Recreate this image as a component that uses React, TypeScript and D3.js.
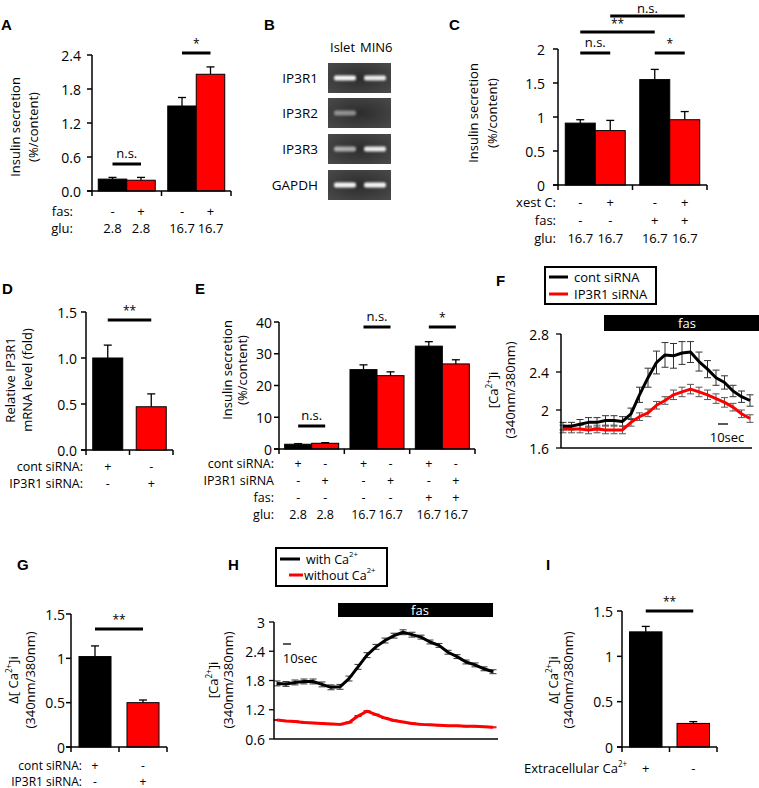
import React from 'react';
import * as d3 from 'd3';

const FONT = "'Open Sans', 'Liberation Sans', sans-serif";
const RED = '#ff0000';

// ---------- Panel A ----------
const aFas = ['-', '+', '-', '+'];
const aGlu = ['2.8', '2.8', '16.7', '16.7'];
const aBlack = [0.21, 1.5];
const aBlackErr = [0.03, 0.15];
const aRed = [0.19, 2.06];
const aRedErr = [0.05, 0.13];
const aTicks = [0, 0.6, 1.2, 1.8, 2.4];

// ---------- Panel B ----------
const bGenes = ['IP3R1', 'IP3R2', 'IP3R3', 'GAPDH'];
const bLanes = ['Islet', 'MIN6'];
const bIslet = [0.95, 0.45, 0.6, 0.95];
const bMin6 = [0.9, 0, 0.9, 0.95];

// ---------- Panel C ----------
const cXest = ['-', '+', '-', '+'];
const cFas = ['-', '-', '+', '+'];
const cGlu = ['16.7', '16.7', '16.7', '16.7'];
const cBlack = [0.91, 1.55];
const cBlackErr = [0.05, 0.15];
const cRed = [0.8, 0.96];
const cRedErr = [0.15, 0.12];
const cTicks = [0, 0.5, 1, 1.5, 2];

// ---------- Panel D ----------
const dCont = ['+', '-'];
const dSi = ['-', '+'];
const dVals = [1.0, 0.47];
const dErr = [0.14, 0.14];
const dTicks = [0, 0.5, 1.0, 1.5];

// ---------- Panel E ----------
const eCont = ['+', '-', '+', '-', '+', '-'];
const eSi = ['-', '+', '-', '+', '-', '+'];
const eFas = ['-', '-', '-', '-', '+', '+'];
const eGlu = ['2.8', '2.8', '16.7', '16.7', '16.7', '16.7'];
const eBlack = [1.5, 25.0, 32.4];
const eBlackErr = [0.2, 1.5, 1.4];
const eRed = [1.8, 23.1, 26.8];
const eRedErr = [0.2, 1.2, 1.3];
const eTicks = [0, 10, 20, 30, 40];

// ---------- Panel F ----------
const fCont = [1.83, 1.83, 1.85, 1.87, 1.87, 1.89, 1.89, 1.88, 1.96, 2.16, 2.34, 2.5, 2.58, 2.57, 2.6, 2.61, 2.51, 2.43, 2.34, 2.29, 2.2, 2.14, 2.1];
const fContErr = [0.04, 0.04, 0.05, 0.05, 0.05, 0.05, 0.05, 0.05, 0.06, 0.08, 0.1, 0.12, 0.13, 0.13, 0.12, 0.11, 0.1, 0.09, 0.08, 0.07, 0.06, 0.06, 0.06];
const fSi = [1.8, 1.8, 1.8, 1.79, 1.8, 1.79, 1.79, 1.79, 1.87, 1.93, 1.97, 2.05, 2.1, 2.16, 2.19, 2.22, 2.19, 2.16, 2.12, 2.08, 2.03, 1.96, 1.91];
const fSiErr = [0.04, 0.04, 0.04, 0.04, 0.04, 0.04, 0.04, 0.04, 0.04, 0.04, 0.04, 0.04, 0.04, 0.05, 0.05, 0.05, 0.05, 0.05, 0.05, 0.05, 0.04, 0.04, 0.04];
const fTicks = [1.6, 2, 2.4, 2.8];

// ---------- Panel G ----------
const gCont = ['+', '-'];
const gSi = ['-', '+'];
const gVals = [1.02, 0.5];
const gErr = [0.12, 0.03];
const gTicks = [0, 0.5, 1, 1.5];

// ---------- Panel H ----------
const hWith = [1.74, 1.73, 1.76, 1.78, 1.78, 1.72, 1.66, 1.67, 1.84, 2.08, 2.32, 2.49, 2.62, 2.72, 2.79, 2.74, 2.69, 2.59, 2.52, 2.38, 2.29, 2.18, 2.12, 2.04, 1.98];
const hWithErr = [0.05, 0.05, 0.05, 0.05, 0.05, 0.05, 0.05, 0.05, 0.05, 0.05, 0.05, 0.05, 0.05, 0.05, 0.05, 0.05, 0.04, 0.04, 0.04, 0.04, 0.04, 0.04, 0.04, 0.04, 0.04];
const hWithout = [0.99, 0.97, 0.96, 0.94, 0.93, 0.92, 0.91, 0.9, 0.94, 1.07, 1.17, 1.1, 1.03, 0.98, 0.95, 0.92, 0.9, 0.89, 0.88, 0.87, 0.87, 0.86, 0.86, 0.85, 0.84];
const hWithoutErr = [0.01, 0.01, 0.01, 0.01, 0.01, 0.01, 0.01, 0.01, 0.01, 0.01, 0.01, 0.01, 0.01, 0.01, 0.01, 0.01, 0.01, 0.01, 0.01, 0.01, 0.01, 0.01, 0.01, 0.01, 0.01];
const hTicks = [0.6, 1.2, 1.8, 2.4, 3];

// ---------- Panel I ----------
const iExtra = ['+', '-'];
const iVals = [1.27, 0.26];
const iErr = [0.06, 0.02];
const iTicks = [0, 0.5, 1, 1.5];

type BarSpec = { v: number; e: number; color: string };
type SigSpec = { a: number; b: number; y: number; label: string; ly?: number };
type RowSpec = { label: string; y: number; values: string[] };

const Sup = ({ pre, post = '' }: { pre: string; post?: string }) => (
  <>
    {pre}
    <tspan fontSize="0.62em" dy={-5}>2+</tspan>
    {post ? <tspan dy={5}>{post}</tspan> : null}
  </>
);

function YLabel({ x1, x2, y, l1, l2, size = 13 }: { x1: number; x2: number; y: number; l1: React.ReactNode; l2: React.ReactNode; size?: number }) {
  return (
    <g fontSize={size} textAnchor="middle">
      <text transform={`translate(${x1},${y}) rotate(-90)`} dominantBaseline="central">{l1}</text>
      <text transform={`translate(${x2},${y}) rotate(-90)`} dominantBaseline="central">{l2}</text>
    </g>
  );
}

function BarPanel(p: {
  axisX: number; axisEnd: number; yTop: number; yBot: number; max: number;
  ticks: number[]; fmt: (n: number) => string; gap: number;
  groups: BarSpec[][]; padInner: number; sigs: SigSpec[];
  rows: RowSpec[]; rowLabelX: number; cap?: number; rowSize?: number;
}) {
  const y = d3.scaleLinear().domain([0, p.max]).range([p.yBot, p.yTop]);
  const xg = d3.scaleBand<number>()
    .domain(d3.range(p.groups.length))
    .range([p.axisX, p.axisEnd])
    .paddingInner(p.padInner)
    .paddingOuter(p.padInner / 2);
  const bars: (BarSpec & { x: number; w: number; cx: number })[] = [];
  p.groups.forEach((g, gi) => {
    const w = xg.bandwidth() / g.length;
    g.forEach((b, k) => {
      const x = (xg(gi) as number) + k * w;
      bars.push({ ...b, x, w, cx: x + w / 2 });
    });
  });
  const seps = d3.range(0, p.groups.length + 1).map((i) => p.axisX + xg.step() * i);
  const cap = p.cap ?? 8;
  return (
    <g>
      {bars.map((b, i) => (
        <g key={i}>
          <line x1={b.cx} x2={b.cx} y1={y(b.v)} y2={y(b.v + b.e)} stroke="#000" strokeWidth={1.3} />
          <line x1={b.cx - cap / 2} x2={b.cx + cap / 2} y1={y(b.v + b.e)} y2={y(b.v + b.e)} stroke="#000" strokeWidth={1.3} />
          <rect x={b.x} y={y(b.v)} width={b.w} height={y(0) - y(b.v)} fill={b.color} stroke="#000" strokeWidth={1} />
        </g>
      ))}
      <line x1={p.axisX} x2={p.axisX} y1={p.yTop} y2={p.yBot + 5} stroke="#000" strokeWidth={1.5} />
      <line x1={p.axisX - 5} x2={p.axisEnd} y1={p.yBot} y2={p.yBot} stroke="#000" strokeWidth={1.5} />
      {seps.slice(1).map((sx, i) => (
        <line key={i} x1={sx} x2={sx} y1={p.yBot} y2={p.yBot + 5} stroke="#000" strokeWidth={1.5} />
      ))}
      {p.ticks.map((t) => (
        <g key={t}>
          <line x1={p.axisX - 5} x2={p.axisX} y1={y(t)} y2={y(t)} stroke="#000" strokeWidth={1.5} />
          <text x={p.axisX - p.gap} y={y(t)} textAnchor="end" dominantBaseline="central" fontSize={14}>{p.fmt(t)}</text>
        </g>
      ))}
      {p.sigs.map((s, i) => (
        <g key={i}>
          <line x1={bars[s.a].cx} x2={bars[s.b].cx} y1={s.y} y2={s.y} stroke="#000" strokeWidth={3} />
          <text x={(bars[s.a].cx + bars[s.b].cx) / 2} y={s.ly ?? (s.label === 'n.s.' ? s.y - 11 : s.y - 10)} textAnchor="middle" dominantBaseline="central" fontSize={s.label === 'n.s.' ? 13 : 12}>{s.label}</text>
        </g>
      ))}
      {p.rows.map((r, ri) => (
        <g key={ri} fontSize={p.rowSize ?? 13}>
          <text x={p.rowLabelX} y={r.y} textAnchor="end" dominantBaseline="central">{r.label}</text>
          {r.values.map((v, vi) => (
            <text key={vi} x={bars[vi].cx} y={r.y} textAnchor="middle" dominantBaseline="central">{v}</text>
          ))}
        </g>
      ))}
    </g>
  );
}

function LinePanel(p: {
  axisX: number; axisEnd: number; yTop: number; yBot: number; lo: number; hi: number;
  ticks: number[]; gap: number; dataX0: number; dataX1: number;
  series: { vals: number[]; errs: number[]; color: string; errColor: string }[];
}) {
  const y = d3.scaleLinear().domain([p.lo, p.hi]).range([p.yBot, p.yTop]);
  const n = p.series[0].vals.length;
  const x = d3.scaleLinear().domain([0, n - 1]).range([p.dataX0, p.dataX1]);
  const line = d3.line<number>().x((_, i) => x(i)).y((v) => y(v));
  return (
    <g>
      {p.series.map((s, si) => (
        <g key={si}>
          {s.vals.map((v, i) => (
            <g key={i} stroke={s.errColor} strokeWidth={1}>
              <line x1={x(i)} x2={x(i)} y1={y(v - s.errs[i])} y2={y(v + s.errs[i])} />
              <line x1={x(i) - 3.5} x2={x(i) + 3.5} y1={y(v - s.errs[i])} y2={y(v - s.errs[i])} />
              <line x1={x(i) - 3.5} x2={x(i) + 3.5} y1={y(v + s.errs[i])} y2={y(v + s.errs[i])} />
            </g>
          ))}
        </g>
      ))}
      {[...p.series].reverse().map((s, si) => (
        <path key={si} d={line(s.vals) || ''} fill="none" stroke={s.color} strokeWidth={3} strokeLinejoin="round" />
      ))}
      <line x1={p.axisX} x2={p.axisX} y1={p.yTop} y2={p.yBot} stroke="#000" strokeWidth={1.5} />
      <line x1={p.axisX} x2={p.axisEnd} y1={p.yBot} y2={p.yBot} stroke="#000" strokeWidth={1.5} />
      {p.ticks.map((t) => (
        <g key={t}>
          <line x1={p.axisX - 5} x2={p.axisX} y1={y(t)} y2={y(t)} stroke="#000" strokeWidth={1.3} />
          <text x={p.axisX - p.gap} y={y(t)} textAnchor="end" dominantBaseline="central" fontSize={14}>{String(t)}</text>
        </g>
      ))}
    </g>
  );
}

function Gel() {
  const rowsY = [63, 98, 134, 170];
  const gx = 328;
  const gw = 63;
  const gh = 30;
  const laneX = [345, 375];
  return (
    <g>
      <text x={330} y={47} fontSize={13} dominantBaseline="central">{bLanes[0]}</text>
      <text x={360} y={47} fontSize={13} dominantBaseline="central">{bLanes[1]}</text>
      {bGenes.map((g, i) => (
        <g key={g}>
          <text x={318} y={rowsY[i] + gh / 2} textAnchor="end" dominantBaseline="central" fontSize={13.5}>{g}</text>
          <rect x={gx} y={rowsY[i]} width={gw} height={gh} fill="url(#gelGrad)" />
          {[bIslet[i], bMin6[i]].map((v, k) =>
            v > 0 ? (
              <rect key={k} x={laneX[k] - 11} y={rowsY[i] + gh / 2 - 2.5} width={22} height={5} rx={2} fill="#fff" opacity={v} filter="url(#bandBlur)" />
            ) : null
          )}
        </g>
      ))}
    </g>
  );
}

export default function App() {
  const f1 = d3.format('.1f');
  const plain = (n: number) => String(n);
  return (
    <svg width={759} height={788} style={{ position: 'absolute', left: 0, top: 0, background: '#fff' }} fontFamily={FONT}>
      <defs>
        <filter id="bandBlur" x="-50%" y="-100%" width="200%" height="300%">
          <feGaussianBlur stdDeviation="1.1" />
        </filter>
        <radialGradient id="gelGrad" cx="50%" cy="50%" r="70%">
          <stop offset="0%" stopColor="#2c2c2c" />
          <stop offset="100%" stopColor="#4a4a4a" />
        </radialGradient>
      </defs>

      {/* Panel labels */}
      <g fontWeight="bold" fontSize={15} fontFamily="'Liberation Sans', Arial, sans-serif">
        <text x={1} y={30}>A</text>
        <text x={264} y={30}>B</text>
        <text x={449} y={30}>C</text>
        <text x={2} y={294}>D</text>
        <text x={195} y={294}>E</text>
        <text x={496} y={286}>F</text>
        <text x={17} y={570}>G</text>
        <text x={228} y={570}>H</text>
        <text x={546} y={570}>I</text>
      </g>

      {/* A */}
      <YLabel x1={15} x2={33} y={127} l1="Insulin secretion" l2="(%/content)" />
      <BarPanel
        axisX={92} axisEnd={231} yTop={55} yBot={191} max={2.4} ticks={aTicks} fmt={f1} gap={11}
        padInner={0.18}
        groups={aBlack.map((v, i) => [
          { v, e: aBlackErr[i], color: '#000' },
          { v: aRed[i], e: aRedErr[i], color: RED },
        ])}
        sigs={[{ a: 0, b: 1, y: 164, label: 'n.s.' }, { a: 2, b: 3, y: 53, label: '*' }]}
        rows={[{ label: 'fas:', y: 211, values: aFas }, { label: 'glu:', y: 228, values: aGlu }]}
        rowLabelX={73}
      />

      {/* B */}
      <Gel />

      {/* C */}
      <YLabel x1={473} x2={492} y={113} l1="Insulin secretion" l2="(%/content)" />
      <BarPanel
        axisX={558} axisEnd={707} yTop={49} yBot={185} max={2} ticks={cTicks} fmt={plain} gap={13}
        padInner={0.195}
        groups={cBlack.map((v, i) => [
          { v, e: cBlackErr[i], color: '#000' },
          { v: cRed[i], e: cRedErr[i], color: RED },
        ])}
        sigs={[
          { a: 0, b: 1, y: 53, label: 'n.s.' },
          { a: 2, b: 3, y: 53, label: '*' },
          { a: 0, b: 2, y: 32, label: '**', ly: 23 },
          { a: 1, b: 3, y: 16, label: 'n.s.', ly: 8 },
        ]}
        rows={[
          { label: 'xest C:', y: 202, values: cXest },
          { label: 'fas:', y: 220, values: cFas },
          { label: 'glu:', y: 238, values: cGlu },
        ]}
        rowLabelX={556}
      />

      {/* D */}
      <YLabel x1={10} x2={27} y={380} l1="Relative IP3R1" l2="mRNA level (fold)" />
      <BarPanel
        axisX={86} axisEnd={173} yTop={312} yBot={450} max={1.5} ticks={dTicks} fmt={f1} gap={9}
        padInner={0.31}
        groups={dVals.map((v, i) => [{ v, e: dErr[i], color: i === 0 ? '#000' : RED }])}
        sigs={[{ a: 0, b: 1, y: 320, label: '**' }]}
        rows={[
          { label: 'cont siRNA:', y: 466, values: dCont },
          { label: 'IP3R1 siRNA:', y: 483, values: dSi },
        ]}
        rowLabelX={83}
        rowSize={12.5}
      />

      {/* E */}
      <YLabel x1={227} x2={242} y={370} l1="Insulin secretion" l2="(%/content)" />
      <BarPanel
        axisX={279} axisEnd={475} yTop={322} yBot={449} max={40} ticks={eTicks} fmt={plain} gap={7}
        padInner={0.173}
        groups={eBlack.map((v, i) => [
          { v, e: eBlackErr[i], color: '#000' },
          { v: eRed[i], e: eRedErr[i], color: RED },
        ])}
        sigs={[
          { a: 0, b: 1, y: 426, label: 'n.s.' },
          { a: 2, b: 3, y: 327, label: 'n.s.' },
          { a: 4, b: 5, y: 327, label: '*' },
        ]}
        rows={[
          { label: 'cont siRNA:', y: 463, values: eCont },
          { label: 'IP3R1 siRNA', y: 480, values: eSi },
          { label: 'fas:', y: 497, values: eFas },
          { label: 'glu:', y: 514, values: eGlu },
        ]}
        rowLabelX={274}
        rowSize={12.5}
      />

      {/* F */}
      <rect x={545} y={267} width={111} height={37} fill="#fff" stroke="#000" strokeWidth={2} />
      <line x1={549} x2={568} y1={277} y2={277} stroke="#000" strokeWidth={3} />
      <line x1={549} x2={568} y1={294} y2={294} stroke={RED} strokeWidth={3} />
      <text x={574} y={277} fontSize={13} dominantBaseline="central">cont siRNA</text>
      <text x={574} y={294} fontSize={13} dominantBaseline="central">IP3R1 siRNA</text>
      <rect x={604} y={315} width={155} height={16} fill="#000" />
      <text x={687} y={323} fontSize={13} fill="#fff" textAnchor="middle" dominantBaseline="central">fas</text>
      <YLabel x1={493} x2={510} y={390} l1={<Sup pre="[Ca" post="]i" />} l2="(340nm/380nm)" />
      <LinePanel
        axisX={561} axisEnd={752} yTop={334} yBot={448} lo={1.6} hi={2.8} ticks={fTicks} gap={12}
        dataX0={563} dataX1={750}
        series={[
          { vals: fCont, errs: fContErr, color: '#000', errColor: '#333' },
          { vals: fSi, errs: fSiErr, color: RED, errColor: '#555' },
        ]}
      />
      <line x1={718} x2={728} y1={424} y2={424} stroke="#000" strokeWidth={1.3} />
      <text x={727} y={437} fontSize={13} textAnchor="middle" dominantBaseline="central">10sec</text>

      {/* G */}
      <YLabel x1={13} x2={30} y={680} l1={<><tspan>Δ[ </tspan><Sup pre="Ca" post="]i" /></>} l2="(340nm/380nm)" />
      <BarPanel
        axisX={71} axisEnd={167} yTop={614} yBot={747} max={1.5} ticks={gTicks} fmt={plain} gap={6}
        padInner={0.333}
        groups={gVals.map((v, i) => [{ v, e: gErr[i], color: i === 0 ? '#000' : RED }])}
        sigs={[{ a: 0, b: 1, y: 629, label: '**' }]}
        rows={[
          { label: 'cont siRNA:', y: 765, values: gCont },
          { label: 'IP3R1 siRNA:', y: 781, values: gSi },
        ]}
        rowLabelX={82}
        rowSize={12}
      />

      {/* H */}
      <rect x={276} y={548} width={111} height={38} fill="#fff" stroke="#000" strokeWidth={2} />
      <line x1={280} x2={300} y1={559} y2={559} stroke="#000" strokeWidth={3} />
      <line x1={289} x2={303} y1={575} y2={575} stroke={RED} strokeWidth={3} />
      <text x={306} y={559} fontSize={12.5} dominantBaseline="central"><Sup pre="with Ca" /></text>
      <text x={304} y={575} fontSize={12.5} dominantBaseline="central"><Sup pre="without Ca" /></text>
      <rect x={338} y={603} width={155} height={14} fill="#000" />
      <text x={420} y={610} fontSize={13} fill="#fff" textAnchor="middle" dominantBaseline="central">fas</text>
      <YLabel x1={213} x2={228} y={680} l1={<Sup pre="[Ca" post="]i" />} l2="(340nm/380nm)" />
      <LinePanel
        axisX={274} axisEnd={498} yTop={622} yBot={739} lo={0.6} hi={3} ticks={hTicks} gap={9}
        dataX0={277} dataX1={493}
        series={[
          { vals: hWith, errs: hWithErr, color: '#000', errColor: '#333' },
          { vals: hWithout, errs: hWithoutErr, color: RED, errColor: '#c00' },
        ]}
      />
      <line x1={283} x2={291} y1={644} y2={644} stroke="#000" strokeWidth={1.3} />
      <text x={300} y={658} fontSize={13} textAnchor="middle" dominantBaseline="central">10sec</text>

      {/* I */}
      <YLabel x1={553} x2={568} y={680} l1={<><tspan>Δ[ </tspan><Sup pre="Ca" post="]i" /></>} l2="(340nm/380nm)" />
      <BarPanel
        axisX={622} axisEnd={717} yTop={611} yBot={747} max={1.5} ticks={iTicks} fmt={plain} gap={9}
        padInner={0.316}
        groups={iVals.map((v, i) => [{ v, e: iErr[i], color: i === 0 ? '#000' : RED }])}
        sigs={[{ a: 0, b: 1, y: 611, label: '**' }]}
        rows={[{ label: '', y: 768, values: iExtra }]}
        rowLabelX={600}
      />
      <text x={524} y={768} fontSize={13} dominantBaseline="central"><Sup pre="Extracellular Ca" /></text>
    </svg>
  );
}
